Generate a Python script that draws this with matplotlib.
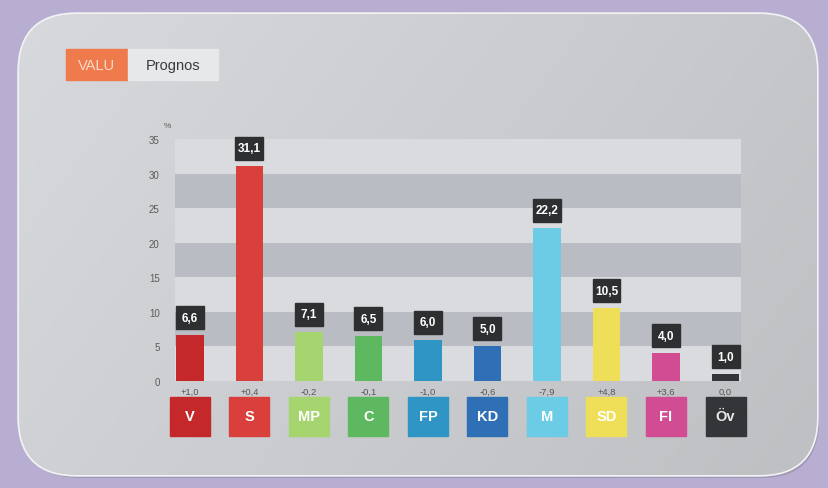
import numpy as np
import matplotlib
matplotlib.use("Agg")
import matplotlib.pyplot as plt
from matplotlib.patches import FancyBboxPatch, Rectangle

plt.rcParams['font.family'] = ['Liberation Sans', 'DejaVu Sans']

# ---- data ----
parties = ["V", "S", "MP", "C", "FP", "KD", "M", "SD", "FI", "Öv"]
values = [6.6, 31.1, 7.1, 6.5, 6.0, 5.0, 22.2, 10.5, 4.0, 1.0]
value_labels = ["6,6", "31,1", "7,1", "6,5", "6,0", "5,0", "22,2", "10,5", "4,0", "1,0"]
changes = ["+1,0", "+0,4", "-0,2", "-0,1", "-1,0", "-0,6", "-7,9", "+4,8", "+3,6", "0,0"]
bar_colors = ["#c4282a", "#d9403c", "#a6d46f", "#5db85f", "#2f95c5",
              "#2f6fb5", "#6ccbe5", "#efde58", "#d24c93", "#333538"]
box_text_colors = ["white"] * 9 + ["#e8e8e8"]
yticks = [0, 5, 10, 15, 20, 25, 30, 35]

W, H = 829, 489
fig = plt.figure(figsize=(W / 100, H / 100), dpi=100)

# ---- background & panel ----
bg = fig.add_axes([0, 0, 1, 1])
bg.set_xlim(0, W)
bg.set_ylim(H, 0)
bg.axis("off")
bg.add_patch(Rectangle((0, 0), W, H, color="#b8aed2", zorder=0))
shadow = FancyBboxPatch((22, 19), 797, 460, boxstyle="round,pad=0,rounding_size=58",
                        fc="#8f879f", ec="none", alpha=0.6, zorder=1)
bg.add_patch(shadow)
panel = FancyBboxPatch((19, 15), 798, 461, boxstyle="round,pad=0,rounding_size=58",
                       fc="#d3d6d9", ec="#f2f2f4", lw=2.5, zorder=2)
bg.add_patch(panel)
gx = np.linspace(0, 1, 200)
gy = np.linspace(0, 1, 120)
GX, GY = np.meshgrid(gx, gy)
g = 0.855 - 0.07 * GX - 0.03 * GY
img = np.dstack([g * 0.985, g * 0.995, g * 1.01])
img = np.clip(img, 0, 1)
im = bg.imshow(img, extent=(19, 817, 476, 15), zorder=3, aspect="auto")
im.set_clip_path(panel)

# header boxes
bg.add_patch(Rectangle((66, 50), 62, 31, color="#ef7a4c", zorder=4))
bg.add_patch(Rectangle((128, 50), 90, 31, color="#e7e8ea", zorder=4))
bg.text(97, 66, "VALU", color="#fbd9c9", fontsize=10.5, ha="center", va="center", zorder=5)
bg.text(173, 66, "Prognos", color="#3a3a3a", fontsize=10.5, ha="center", va="center", zorder=5)

# ---- chart ----
x0, x1 = 175, 741
y0, y1 = 382, 140
ax = fig.add_axes([x0 / W, 1 - y0 / H, (x1 - x0) / W, (y0 - y1) / H])
ax.set_xlim(-0.25, 9.26)
ax.set_ylim(0, 35)
ax.patch.set_alpha(0)
for s in ax.spines.values():
    s.set_visible(False)

for i, lo in enumerate(range(0, 35, 5)):
    c = "#d9dbde" if i % 2 == 0 else "#b9bcc2"
    ax.axhspan(lo, lo + 5, color=c, zorder=0, lw=0)

x = np.arange(len(parties))
ax.bar(x, values, width=0.46, color=bar_colors, zorder=2)

ax.set_yticks(yticks)
ax.set_yticklabels([str(t) for t in yticks], fontsize=7, color="#5a5a5a")
ax.tick_params(axis="y", length=0, pad=11)
ax.set_xticks([])
ax.text(-0.32, 37.0, "%", fontsize=6, color="#5a5a5a", ha="right", va="center")

unit = 35 / (y0 - y1)  # data units per pixel
for xi, v, lab, ch, p, bc, tc in zip(x, values, value_labels, changes, parties, bar_colors, box_text_colors):
    bw = 0.47
    bh = 23 * unit
    yb = v + 6 * unit
    ax.add_patch(Rectangle((xi - bw / 2, yb), bw, bh, color="#2e2f31", zorder=3, clip_on=False))
    ax.text(xi, yb + bh / 2, lab, color="white", fontsize=8.5, fontweight="bold",
            ha="center", va="center", zorder=4, clip_on=False)
    ax.text(xi, -10 * unit, ch, color="#555555", fontsize=6.8, ha="center", va="center", clip_on=False)
    pw = 40 / 59.5
    ph = 39 * unit
    ax.add_patch(Rectangle((xi - pw / 2, -16 * unit - ph), pw, ph, color=bc, zorder=3, clip_on=False))
    ax.text(xi, -16 * unit - ph / 2, p, color=tc, fontsize=10.5, fontweight="bold",
            ha="center", va="center", zorder=4, clip_on=False)

fig.savefig("out.png", dpi=100)
